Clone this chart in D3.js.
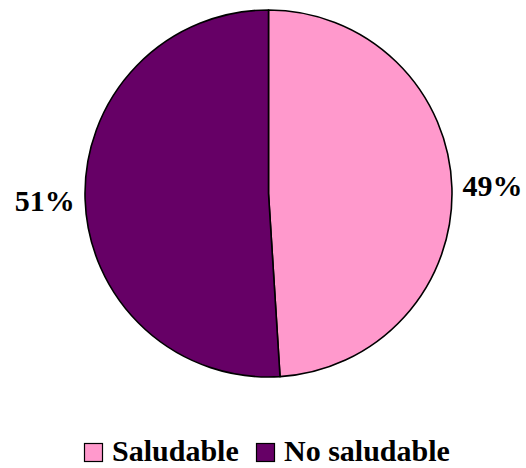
<!DOCTYPE html>
<html>
<head>
<meta charset="utf-8">
<script src="https://cdn.jsdelivr.net/npm/d3@7"></script>
<style>
  html, body { margin: 0; padding: 0; background: #fff; }
  svg { display: block; }
  svg text { font-family: "Liberation Serif", "Times New Roman", Times, "DejaVu Serif", serif; font-weight: bold; }
</style>
</head>
<body>
<svg id="chart" width="526" height="468"></svg>
<script>
// Share of items by healthiness
const categories = ["Saludable", "No saludable"];
const values = [49, 51];
const labels = ["49%", "51%"];
const colors = ["#FF99CC", "#660066"];

const svg = d3.select("#chart");
const cx = 268.5, cy = 193.5, radius = 183.5;

const pie = d3.pie().sort(null).value(d => d.value).startAngle(0).endAngle(2 * Math.PI);
const data = categories.map((c, i) => ({ name: c, value: values[i], label: labels[i], color: colors[i] }));
const arcs = pie(data);

const arc = d3.arc().innerRadius(0).outerRadius(radius);
const labelArc = d3.arc().innerRadius(224).outerRadius(224);

const g = svg.append("g").attr("transform", `translate(${cx},${cy})`);

g.selectAll("path.slice")
  .data(arcs)
  .join("path")
  .attr("class", "slice")
  .attr("d", arc)
  .attr("fill", d => d.data.color)
  .attr("stroke", "#000")
  .attr("stroke-width", 1.6)
  .attr("stroke-linejoin", "round");

g.selectAll("text.pct")
  .data(arcs)
  .join("text")
  .attr("class", "pct")
  .attr("x", d => labelArc.centroid(d)[0])
  .attr("y", d => labelArc.centroid(d)[1] + 10)
  .attr("text-anchor", "middle")
  .attr("font-size", 30)
  .attr("fill", "#000")
  .text(d => d.data.label);

// Legend
const legendX = [84, 256];
const legend = svg.append("g");
const items = legend.selectAll("g.item")
  .data(data)
  .join("g")
  .attr("class", "item")
  .attr("transform", (d, i) => `translate(${legendX[i]},443)`);

items.append("rect")
  .attr("x", 0.5).attr("y", 0.5)
  .attr("width", 18).attr("height", 18)
  .attr("fill", d => d.color)
  .attr("stroke", "#000")
  .attr("stroke-width", 1.2);

items.append("text")
  .attr("x", 28)
  .attr("y", 18)
  .attr("font-size", 30)
  .attr("fill", "#000")
  .text(d => d.name);
</script>
</body>
</html>
